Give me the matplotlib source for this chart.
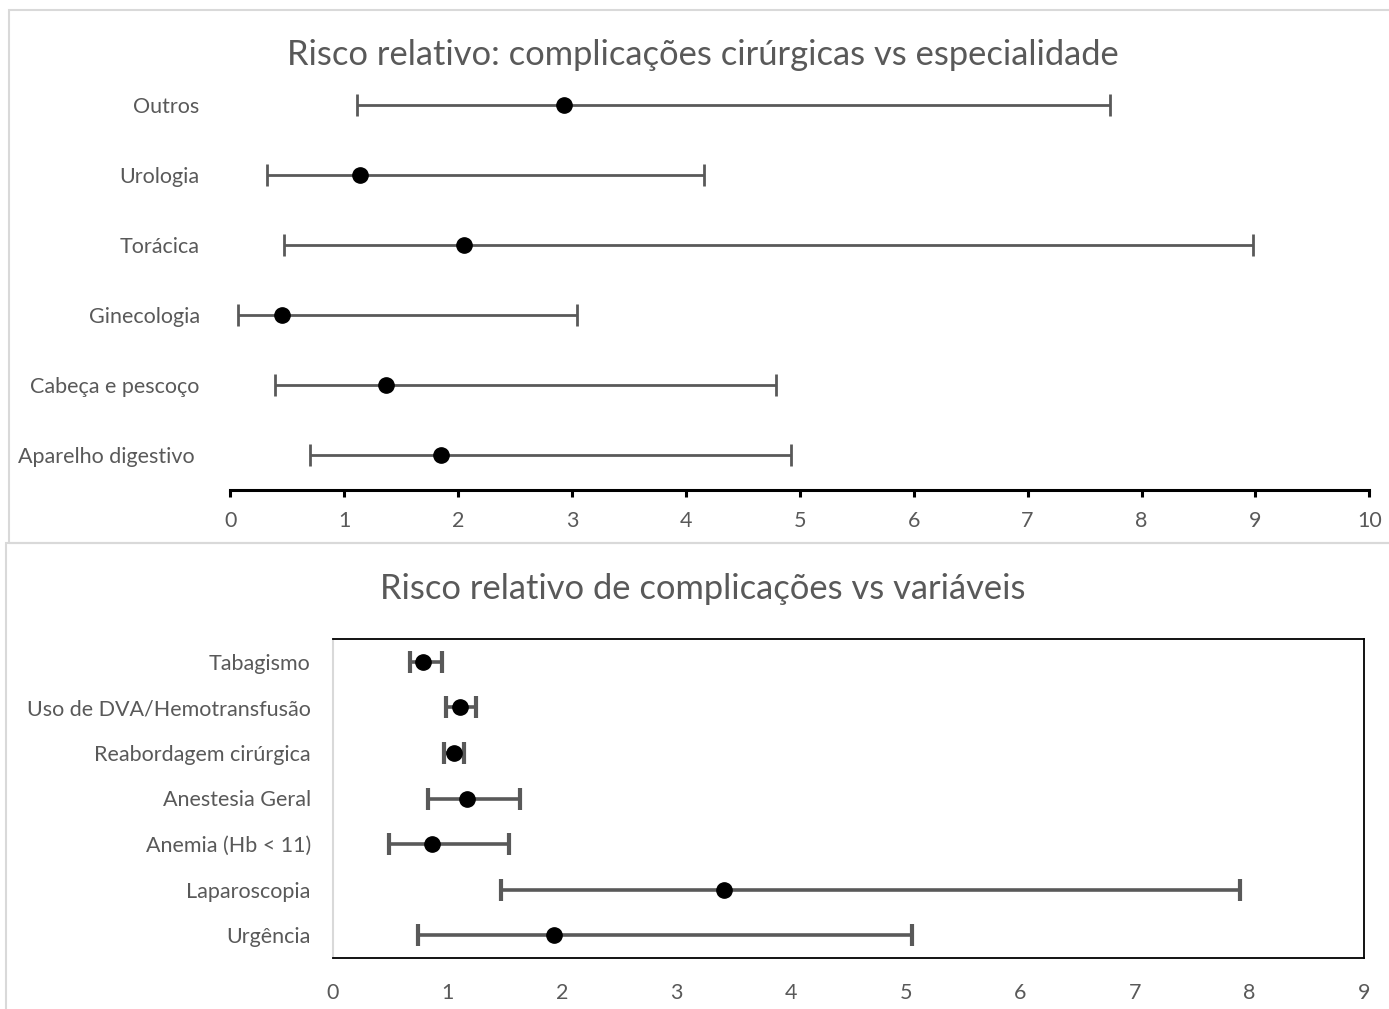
import numpy as np
import matplotlib
matplotlib.use("Agg")
import matplotlib.pyplot as plt
from matplotlib.patches import Rectangle

plt.rcParams['font.family'] = ['Lato', 'DejaVu Sans']

# top chart: especialidade
esp = ["Aparelho digestivo ", "Cabeça e pescoço", "Ginecologia", "Torácica", "Urologia", "Outros"]
esp_rr = np.array([1.85, 1.37, 0.45, 2.05, 1.14, 2.93])
esp_lo = np.array([0.70, 0.39, 0.07, 0.47, 0.32, 1.11])
esp_hi = np.array([4.92, 4.79, 3.04, 8.98, 4.16, 7.72])

# bottom chart: variaveis
var = ["Urgência", "Laparoscopia", "Anemia (Hb < 11)", "Anestesia Geral",
       "Reabordagem cirúrgica", "Uso de DVA/Hemotransfusão", "Tabagismo"]
var_rr = np.array([1.93, 3.41, 0.86, 1.17, 1.06, 1.11, 0.79])
var_lo = np.array([0.74, 1.47, 0.49, 0.83, 0.97, 0.99, 0.67])
var_hi = np.array([5.05, 7.92, 1.54, 1.63, 1.14, 1.25, 0.95])

W, H = 1389, 1009
txt = "#595959"
fs = 15.5
fig = plt.figure(figsize=(W / 100, H / 100), dpi=100)

# chart borders
fig.patches.append(Rectangle((8.5 / W, 1 - 543 / H), 1.0, 533 / H, transform=fig.transFigure,
                             fill=False, edgecolor="#d9d9d9", lw=1.5))
fig.patches.append(Rectangle((6 / W, -0.1), 1.0, 0.1 + 1 - 543 / H, transform=fig.transFigure,
                             fill=False, edgecolor="#d9d9d9", lw=1.5))

# --- top ---
ax1 = fig.add_axes([230.3 / W, 1 - 490 / H, 1139 / W, 420 / H])
y1 = np.arange(len(esp)) + 0.5
ax1.errorbar(esp_rr, y1, xerr=[esp_rr - esp_lo, esp_hi - esp_rr], fmt="o", color="black",
             ms=11, ecolor="#595959", elinewidth=2, capsize=8, capthick=2)
ax1.set_xlim(0, 10)
ax1.set_ylim(0, len(esp))
ax1.set_xticks(range(0, 11))
ax1.set_yticks(y1)
ax1.set_yticklabels(esp)
for s in ["top", "right", "left"]:
    ax1.spines[s].set_visible(False)
ax1.spines["bottom"].set_linewidth(2.2)
ax1.tick_params(axis="x", length=5, width=2.2, direction="out", pad=10, labelsize=fs, labelcolor=txt)
ax1.tick_params(axis="y", length=0, pad=22, labelsize=fs, labelcolor=txt)
fig.text(703 / W, 1 - 55 / H, "Risco relativo: complicações cirúrgicas vs especialidade",
         ha="center", va="center", fontsize=24.8, color=txt)

# --- bottom ---
ax2 = fig.add_axes([333 / W, 1 - 958 / H, 1031 / W, 319 / H])
y2 = np.arange(len(var)) + 0.5
ax2.errorbar(var_rr, y2, xerr=[var_rr - var_lo, var_hi - var_rr], fmt="o", color="black",
             ms=11, ecolor="#595959", elinewidth=2.6, capsize=8, capthick=3)
ax2.set_xlim(0, 9)
ax2.set_ylim(0, len(var))
ax2.set_xticks(range(0, 10))
ax2.set_yticks(y2)
ax2.set_yticklabels(var)
for s in ["top", "right", "bottom"]:
    ax2.spines[s].set_linewidth(1.3)
    ax2.spines[s].set_color("black")
ax2.spines["left"].set_color("#d9d9d9")
ax2.spines["left"].set_linewidth(1.5)
ax2.tick_params(axis="x", length=0, pad=18, labelsize=fs, labelcolor=txt)
ax2.tick_params(axis="y", length=0, pad=16, labelsize=fs, labelcolor=txt)
fig.text(703 / W, 1 - 589 / H, "Risco relativo de complicações vs variáveis",
         ha="center", va="center", fontsize=24.8, color=txt)

fig.savefig("out.png", dpi=100)
